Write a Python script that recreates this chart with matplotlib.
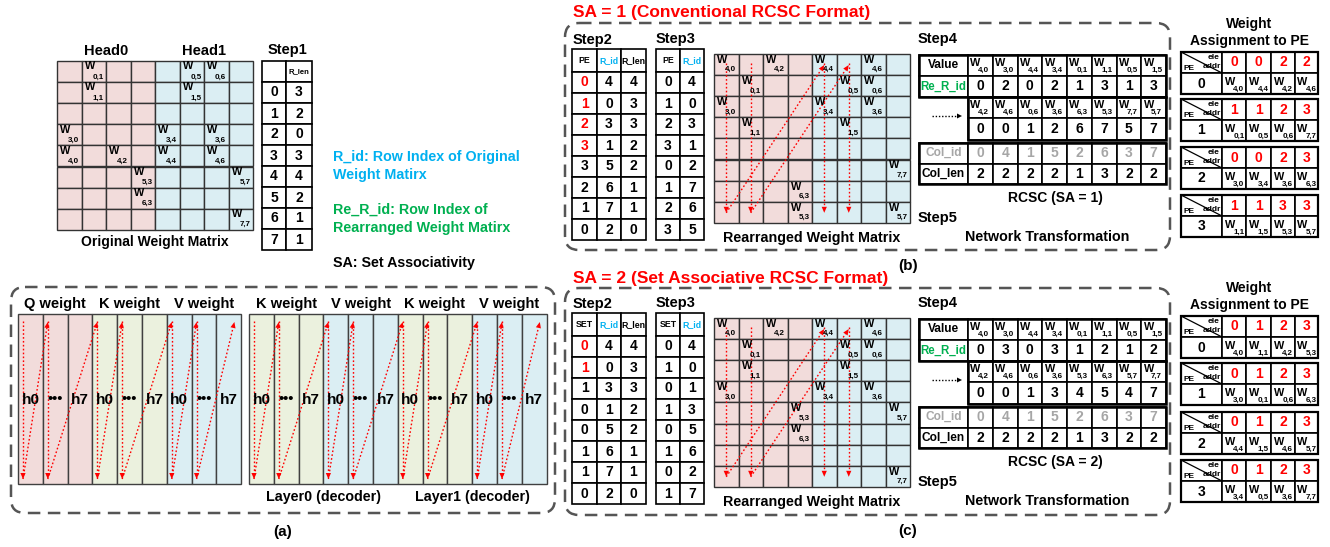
import math
import matplotlib
matplotlib.use("Agg")
import matplotlib.pyplot as plt
from matplotlib.patches import Rectangle, FancyBboxPatch, Polygon

plt.rcParams["font.family"] = ["Liberation Sans", "DejaVu Sans"]
plt.rcParams["font.weight"] = "bold"

# ---------------- data ----------------
ORIG_WEIGHTS = [(0, 1), (0, 5), (0, 6), (1, 1), (1, 5), (3, 0), (3, 4), (3, 6),
                (4, 0), (4, 2), (4, 4), (4, 6), (5, 3), (5, 7), (6, 3), (7, 7)]
HEADS = ["Head0", "Head1"]
STEP1_ROWS = [0, 1, 2, 3, 4, 5, 6, 7]
STEP1_RLEN = [3, 2, 0, 3, 4, 2, 1, 1]

B_STEP2_PE = [0, 1, 2, 3, 3, 2, 1, 0]
B_STEP2_RID = [4, 0, 3, 1, 5, 6, 7, 2]
B_STEP2_RLEN = [4, 3, 3, 2, 2, 1, 1, 0]
B_STEP3_PE = [0, 1, 2, 3, 0, 1, 2, 3]
B_STEP3_RID = [4, 0, 3, 1, 2, 7, 6, 5]
B_VALUES_1 = ["4,0", "3,0", "4,4", "3,4", "0,1", "1,1", "0,5", "1,5"]
B_RERID_1 = [0, 2, 0, 2, 1, 3, 1, 3]
B_VALUES_2 = ["4,2", "4,6", "0,6", "3,6", "6,3", "5,3", "7,7", "5,7"]
B_RERID_2 = [0, 0, 1, 2, 6, 7, 5, 7]
B_COL_ID = [0, 4, 1, 5, 2, 6, 3, 7]
B_COL_LEN = [2, 2, 2, 2, 1, 3, 2, 2]
B_ADDR = [[0, 0, 2, 2], [1, 1, 2, 3], [0, 0, 2, 3], [1, 1, 3, 3]]
B_ASSIGN = [["4,0", "4,4", "4,2", "4,6"], ["0,1", "0,5", "0,6", "7,7"],
            ["3,0", "3,4", "3,6", "6,3"], ["1,1", "1,5", "5,3", "5,7"]]

C_STEP2_SET = [0, 1, 1, 0, 0, 1, 1, 0]
C_STEP2_RID = [4, 0, 3, 1, 5, 6, 7, 2]
C_STEP2_RLEN = [4, 3, 3, 2, 2, 1, 1, 0]
C_STEP3_SET = [0, 1, 0, 1, 0, 1, 0, 1]
C_STEP3_RID = [4, 0, 1, 3, 5, 6, 2, 7]
C_VALUES_1 = ["4,0", "3,0", "4,4", "3,4", "0,1", "1,1", "0,5", "1,5"]
C_RERID_1 = [0, 3, 0, 3, 1, 2, 1, 2]
C_VALUES_2 = ["4,2", "4,6", "0,6", "3,6", "5,3", "6,3", "5,7", "7,7"]
C_RERID_2 = [0, 0, 1, 3, 4, 5, 4, 7]
C_COL_ID = [0, 4, 1, 5, 2, 6, 3, 7]
C_COL_LEN = [2, 2, 2, 2, 1, 3, 2, 2]
C_ADDR = [[0, 1, 2, 3], [0, 1, 2, 3], [0, 1, 2, 3], [0, 1, 2, 3]]
C_ASSIGN = [["4,0", "1,1", "4,2", "5,3"], ["3,0", "0,1", "0,6", "6,3"],
            ["4,4", "1,5", "4,6", "5,7"], ["3,4", "0,5", "3,6", "7,7"]]

LEFT_GROUPS = ["Q weight", "K weight", "V weight"]
RIGHT_GROUPS = ["K weight", "V weight", "K weight", "V weight"]
LAYERS = ["Layer0 (decoder)", "Layer1 (decoder)"]

# ---------------- style ----------------
PINK = "#f2dcdb"
BLUE = "#dbeef3"
GREEN = "#ebf1de"
RED = "#ff0000"
CYAN = "#00b0f0"
LGREEN = "#00b050"
GRAY = "#a6a6a6"
GRID = "#333333"
GROUP_COLORS = {"Q": PINK, "K": GREEN, "V": BLUE}

fig = plt.figure(figsize=(13.3, 5.47), dpi=100)
ax = fig.add_axes([0, 0, 1, 1])
ax.set_xlim(0, 1330)
ax.set_ylim(547, 0)
ax.axis("off")


def txt(x, y, s, size=10, color="black", ha="center", va="center", weight="bold"):
    ax.text(x, y, s, fontsize=size, color=color, ha=ha, va=va, fontweight=weight)


def cell(x, y, w, h, fc="white", ec="black", lw=1.2):
    ax.add_patch(Rectangle((x, y), w, h, facecolor=fc, edgecolor=ec, linewidth=lw))


def wlabel(x, y, w, h, sub, wpos=(0.32, 0.33), spos=(0.64, 0.74)):
    txt(x + w * wpos[0], y + h * wpos[1], "W", size=7.8)
    txt(x + w * spos[0], y + h * spos[1], sub, size=5.8)


def red_arrow(x0, y0, x1, y1, hl=6.0, hw=2.6):
    dx, dy = x1 - x0, y1 - y0
    L = math.hypot(dx, dy)
    ux, uy = dx / L, dy / L
    bx, by = x1 - ux * hl, y1 - uy * hl
    ax.plot([x0, bx], [y0, by], color=RED, lw=1.0, ls=(0, (1.2, 1.6)))
    px, py = -uy, ux
    ax.add_patch(Polygon([(x1, y1), (bx + px * hw, by + py * hw), (bx - px * hw, by - py * hw)],
                         closed=True, facecolor=RED, edgecolor="none"))


def dashed_box(x0, y0, x1, y1):
    ax.add_patch(FancyBboxPatch((x0, y0), x1 - x0, y1 - y0,
                                boxstyle="round,pad=0,rounding_size=14",
                                facecolor="none", edgecolor="#555555",
                                linewidth=1.8, linestyle=(0, (5, 3))))


# ---------------- original weight matrix ----------------
MX, MY, CW, CH = 57, 61, 24.5, 21.1
for r in range(8):
    for c in range(8):
        cell(MX + c * CW, MY + r * CH, CW, CH, fc=PINK if c < 4 else BLUE, ec=GRID, lw=1.0)
for r, c in ORIG_WEIGHTS:
    wlabel(MX + c * CW, MY + r * CH, CW, CH, f"{r},{c}", wpos=(0.35, 0.25), spos=(0.68, 0.76))
for i, h in enumerate(HEADS):
    txt(MX + (2 + 4 * i) * CW, 51, h, size=10.5)
txt(MX + 4 * CW, 242, "Original Weight Matrix", size=10)

# Step1 table
txt(287, 50, "Step1", size=10.5)
S1X = [262, 286, 312]
cell(S1X[0], 61, S1X[1] - S1X[0], 21)
cell(S1X[1], 61, S1X[2] - S1X[1], 21)
txt((S1X[1] + S1X[2]) / 2, 71.5, "R_len", size=5.5)
for i, (rid, rl) in enumerate(zip(STEP1_ROWS, STEP1_RLEN)):
    y = 82 + i * 21
    cell(S1X[0], y, S1X[1] - S1X[0], 21)
    cell(S1X[1], y, S1X[2] - S1X[1], 21)
    txt((S1X[0] + S1X[1]) / 2, y + 10.5, str(rid), size=10)
    txt((S1X[1] + S1X[2]) / 2, y + 10.5, str(rl), size=10)

# legend text
txt(333, 157, "R_id: Row Index of Original", size=10.3, color=CYAN, ha="left")
txt(333, 175, "Weight Matirx", size=10.3, color=CYAN, ha="left")
txt(333, 210, "Re_R_id: Row Index of", size=10.3, color=LGREEN, ha="left")
txt(333, 228, "Rearranged Weight Matirx", size=10.3, color=LGREEN, ha="left")
txt(333, 263, "SA: Set Associativity", size=10.3, ha="left")

# ---------------- panel (a) ----------------
dashed_box(11, 287, 555, 513)
txt(283, 532, "(a)", size=11)
ATOP, ABOT, ACW = 314, 484, 24.8


def head_block(x0, groups):
    xs = []
    for gi, name in enumerate(groups):
        color = GROUP_COLORS[name[0]]
        for k in range(3):
            cx = x0 + (gi * 3 + k) * ACW
            cell(cx, ATOP, ACW, ABOT - ATOP, fc=color, ec="#404040", lw=1.0)
        gx = x0 + gi * 3 * ACW
        txt(gx + 1.5 * ACW, 304, name, size=10.5)
        txt(gx + 0.5 * ACW, 400, "h0", size=11)
        txt(gx + 1.5 * ACW, 399, "\u2022\u2022\u2022", size=10.5)
        txt(gx + 2.5 * ACW, 400, "h7", size=11)
        xs.append(gx + 5)
        xs.append(gx + ACW + 5)
    end_x = x0 + (len(groups) * 3 - 1) * ACW + 18
    for i, x in enumerate(xs):
        red_arrow(x, 321, x, 479)
        nx = xs[i + 1] if i + 1 < len(xs) else end_x
        red_arrow(x, 479, nx, 322)


head_block(18, LEFT_GROUPS)
head_block(249, RIGHT_GROUPS)
txt(249 + 3 * ACW, 497, LAYERS[0], size=10.3)
txt(249 + 9 * ACW, 497, LAYERS[1], size=10.3)


# ---------------- panels (b) and (c) ----------------
def step_tables(y0, key, s2_key, s2_rid, s2_rlen, s3_key, s3_rid, n_red):
    txt(573, y0 - 9, "Step2", size=10.5, ha="left")
    txt(656, y0 - 10, "Step3", size=10.5, ha="left")
    xs2 = [572, 597, 621, 646]
    xs3 = [656, 680, 704]
    hh, rh = 23, 21.0
    heads2 = [(key, "black"), ("R_id", CYAN), ("R_len", "black")]
    for j, (hd, col) in enumerate(heads2):
        cell(xs2[j], y0, xs2[j + 1] - xs2[j], hh)
        txt((xs2[j] + xs2[j + 1]) / 2, y0 + hh / 2, hd, size=6.3, color=col)
    heads3 = [(key, "black"), ("R_id", CYAN)]
    for j, (hd, col) in enumerate(heads3):
        cell(xs3[j], y0, xs3[j + 1] - xs3[j], hh)
        txt((xs3[j] + xs3[j + 1]) / 2, y0 + hh / 2, hd, size=6.3, color=col)
    for i in range(8):
        y = y0 + hh + i * rh
        vals2 = [s2_key[i], s2_rid[i], s2_rlen[i]]
        for j, v in enumerate(vals2):
            cell(xs2[j], y, xs2[j + 1] - xs2[j], rh)
            col = RED if (j == 0 and i < n_red) else "black"
            txt((xs2[j] + xs2[j + 1]) / 2, y + rh / 2, str(v), size=10, color=col)
        vals3 = [s3_key[i], s3_rid[i]]
        for j, v in enumerate(vals3):
            cell(xs3[j], y, xs3[j + 1] - xs3[j], rh)
            txt((xs3[j] + xs3[j + 1]) / 2, y + rh / 2, str(v), size=10)


def rearranged(y0, row_order):
    x0 = 714
    for r in range(8):
        for c in range(8):
            cell(x0 + c * CW, y0 + r * CH, CW, CH, fc=PINK if c < 4 else BLUE, ec=GRID, lw=1.0)
    for i, orig_r in enumerate(row_order):
        for r, c in ORIG_WEIGHTS:
            if r == orig_r:
                wlabel(x0 + c * CW, y0 + i * CH, CW, CH, f"{r},{c}", wpos=(0.35, 0.28), spos=(0.68, 0.75))
    cx = [x0 + (k + 0.5) * CW for k in (0, 1, 4, 5)]
    top, bot = y0 + 9, y0 + 8 * CH - 10
    for x in cx:
        red_arrow(x, top, x, bot)
    red_arrow(cx[0], bot, cx[2], y0 + 11)
    red_arrow(cx[1], bot, cx[3], y0 + 11)
    txt(x0 + 4 * CW, y0 + 8 * CH + 15, "Rearranged Weight Matrix", size=10.3)


def step4(y0, vals1, ids1, vals2, ids2, col_id, col_len, sa):
    txt(918, y0 - 16, "Step4", size=10.5, ha="left")
    lx, vx, w = 919, 968, 24.75
    rows = [y0, y0 + 21, y0 + 42, y0 + 63, y0 + 85]
    cell(lx, rows[0], vx - lx, 21)
    cell(lx, rows[1], vx - lx, 21)
    txt((lx + vx) / 2, rows[0] + 10.5, "Value", size=8.6)
    txt((lx + vx) / 2, rows[1] + 10.5, "Re_R_id", size=8.3, color=LGREEN)
    for j in range(8):
        x = vx + j * w
        for k, (vals, ids) in enumerate([(vals1, ids1), (vals2, ids2)]):
            ya, yb = rows[2 * k], rows[2 * k + 1]
            cell(x, ya, w, yb - ya)
            wlabel(x, ya, w, yb - ya, vals[j], wpos=(0.3, 0.38), spos=(0.62, 0.72))
            cell(x, yb, w, rows[2 * k + 2] - yb)
            txt(x + w / 2, (yb + rows[2 * k + 2]) / 2, str(ids[j]), size=10)
    ax.add_patch(Rectangle((lx, rows[0]), vx + 8 * w - lx, rows[2] - rows[0],
                           facecolor="none", edgecolor="black", linewidth=1.8))
    ax.add_patch(Rectangle((vx, rows[2]), 8 * w, rows[4] - rows[2],
                           facecolor="none", edgecolor="black", linewidth=1.8))
    # dotted continuation arrow
    ax.plot([932, 957], [rows[2] + 19, rows[2] + 19], color="black", lw=1.0, ls=(0, (1, 1.3)))
    ax.add_patch(Polygon([(962, rows[2] + 19), (957, rows[2] + 16.5), (957, rows[2] + 21.5)],
                         closed=True, facecolor="black", edgecolor="none"))
    cy0 = rows[4] + 3
    cy = [cy0, cy0 + 20.5, cy0 + 41]
    cell(lx, cy[0], vx - lx, 20.5)
    cell(lx, cy[1], vx - lx, 20.5)
    txt((lx + vx) / 2, cy[0] + 10.25, "Col_id", size=8.6, color=GRAY)
    txt((lx + vx) / 2, cy[1] + 10.25, "Col_len", size=8.6)
    for j in range(8):
        x = vx + j * w
        cell(x, cy[0], w, 20.5)
        cell(x, cy[1], w, 20.5)
        txt(x + w / 2, cy[0] + 10.25, str(col_id[j]), size=10, color=GRAY)
        txt(x + w / 2, cy[1] + 10.25, str(col_len[j]), size=10)
    ax.add_patch(Rectangle((lx, cy[0]), vx + 8 * w - lx, 41,
                           facecolor="none", edgecolor="black", linewidth=1.8))
    txt(1055, cy[2] + 14, f"RCSC (SA = {sa})", size=10)
    txt(918, cy[2] + 34, "Step5", size=10.5, ha="left")
    txt(1047, cy[2] + 53, "Network Transformation", size=10.3)


def assignment(title_y, tops, addr, assign):
    txt(1249, title_y, "Weight", size=10)
    txt(1249, title_y + 17, "Assignment to PE", size=10)
    xs = [1181, 1222, 1246, 1271, 1295, 1318]
    for p, ty in enumerate(tops):
        h = 21
        cell(xs[0], ty, xs[1] - xs[0], h)
        ax.plot([xs[0], xs[1]], [ty, ty + h], color="black", lw=0.9)
        txt(xs[1] - 3, ty + 5.5, "ele", size=6, ha="right")
        txt(xs[1] - 1, ty + 14.5, "addr", size=6, ha="right")
        txt(xs[0] + 8, ty + 16.5, "PE", size=6)
        cell(xs[0], ty + h, xs[1] - xs[0], h)
        txt((xs[0] + xs[1]) / 2, ty + h * 1.5, str(p), size=10)
        for j in range(4):
            cell(xs[j + 1], ty, xs[j + 2] - xs[j + 1], h)
            txt((xs[j + 1] + xs[j + 2]) / 2, ty + h / 2, str(addr[p][j]), size=10, color=RED)
            cell(xs[j + 1], ty + h, xs[j + 2] - xs[j + 1], h)
            wlabel(xs[j + 1], ty + h, xs[j + 2] - xs[j + 1], h, assign[p][j],
                   wpos=(0.33, 0.42), spos=(0.7, 0.76))
        ax.add_patch(Rectangle((xs[0], ty), xs[-1] - xs[0], 2 * h,
                               facecolor="none", edgecolor="black", linewidth=1.6))


# (b)
txt(573, 13, "SA = 1 (Conventional RCSC Format)", size=12.5, color=RED, ha="left")
dashed_box(565, 23, 1170, 250)
txt(908, 266, "(b)", size=11)
step_tables(49, "PE", B_STEP2_PE, B_STEP2_RID, B_STEP2_RLEN, B_STEP3_PE, B_STEP3_RID, 4)
rearranged(54, B_STEP3_RID)
step4(55, B_VALUES_1, B_RERID_1, B_VALUES_2, B_RERID_2, B_COL_ID, B_COL_LEN, 1)
assignment(24, [52, 99, 147, 195], B_ADDR, B_ASSIGN)

# (c)
txt(573, 278, "SA = 2 (Set Associative RCSC Format)", size=12.5, color=RED, ha="left")
dashed_box(565, 288, 1170, 515)
txt(908, 531, "(c)", size=11)
step_tables(313, "SET", C_STEP2_SET, C_STEP2_RID, C_STEP2_RLEN, C_STEP3_SET, C_STEP3_RID, 2)
rearranged(318, C_STEP3_RID)
step4(319, C_VALUES_1, C_RERID_1, C_VALUES_2, C_RERID_2, C_COL_ID, C_COL_LEN, 2)
assignment(288, [316, 363, 412, 460], C_ADDR, C_ASSIGN)

fig.savefig("out.png", dpi=100)
